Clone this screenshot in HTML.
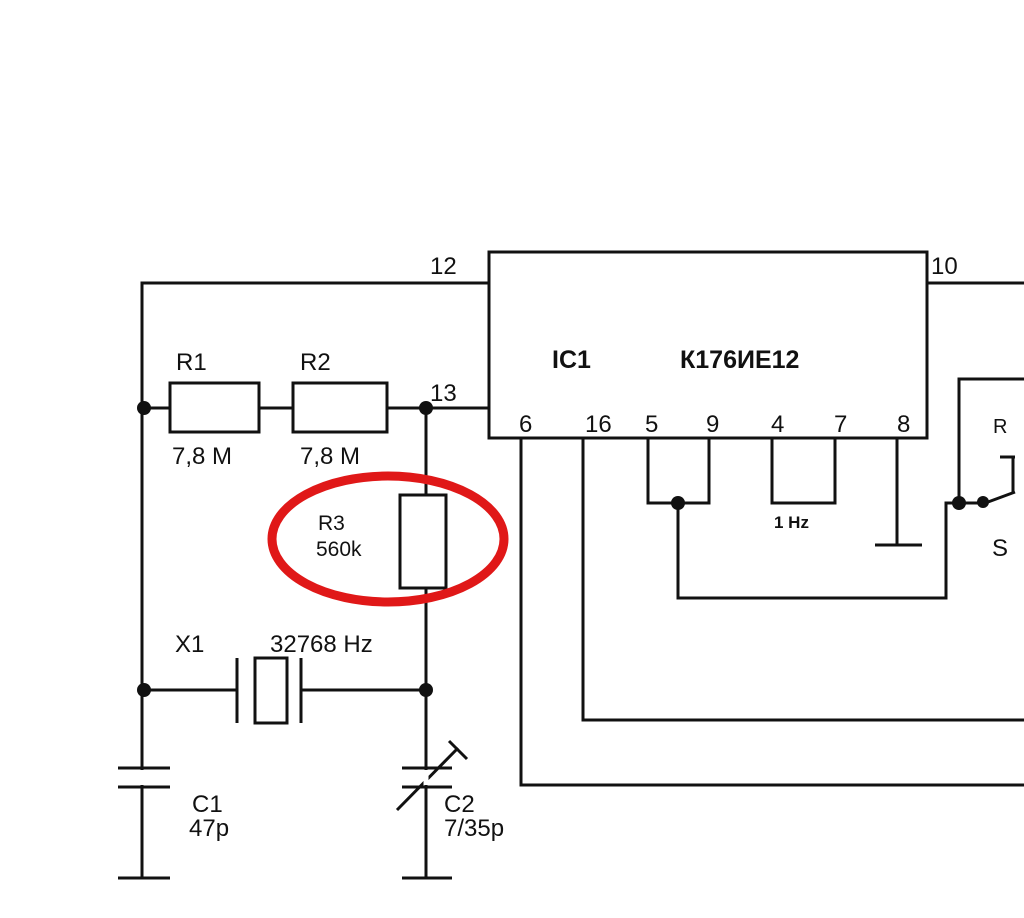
<!DOCTYPE html>
<html><head><meta charset="utf-8"><style>
html,body{margin:0;padding:0;background:#fff;}
svg{display:block}
text{font-family:"Liberation Sans",sans-serif;fill:#111;}
</style></head><body>
<svg width="1024" height="918" viewBox="0 0 1024 918" xmlns="http://www.w3.org/2000/svg">
<g stroke="#111" stroke-width="3" fill="none">
<!-- IC box -->
<rect x="489" y="252" width="438" height="186"/>
<!-- top wire pin 12 -->
<polyline points="489,283 142,283 142,878"/>
<line x1="927" y1="283" x2="1024" y2="283"/>
<!-- R1 R2 line -->
<line x1="142" y1="408" x2="170" y2="408"/>
<rect x="170" y="383" width="89" height="49"/>
<line x1="259" y1="408" x2="293" y2="408"/>
<rect x="293" y="383" width="94" height="49"/>
<line x1="387" y1="408" x2="489" y2="408"/>
<!-- right vertical -->
<line x1="426" y1="408" x2="426" y2="495"/>
<rect x="400" y="495" width="46" height="93"/>
<line x1="426" y1="588" x2="426" y2="878"/>
<!-- crystal -->
<line x1="142" y1="690" x2="237" y2="690"/>
<line x1="237" y1="658" x2="237" y2="723"/>
<rect x="255" y="658" width="32" height="65"/>
<line x1="301" y1="658" x2="301" y2="723"/>
<line x1="301" y1="690" x2="426" y2="690"/>
<!-- C1 -->
<line x1="118" y1="768" x2="170" y2="768"/>
<line x1="118" y1="787" x2="170" y2="787"/>
<line x1="118" y1="878" x2="170" y2="878"/>
<!-- C2 -->
<line x1="402" y1="768" x2="452" y2="768"/>
<line x1="402" y1="787" x2="452" y2="787"/>
<line x1="402" y1="878" x2="452" y2="878"/>
<line x1="397" y1="810" x2="458" y2="748"/>
<line x1="449" y1="741" x2="467" y2="759"/>
<!-- white gap between cap plates on verticals -->
</g>
<g stroke="#fff" stroke-width="5">
<line x1="142" y1="770" x2="142" y2="785"/>
<line x1="426" y1="770" x2="426" y2="785"/>
</g>
<g stroke="#111" stroke-width="3" fill="none">
<!-- bottom pins -->
<polyline points="521,438 521,785 1024,785"/>
<polyline points="583,438 583,720 1024,720"/>
<polyline points="648,438 648,503 709,503 709,438"/>
<polyline points="678,503 678,598 946,598 946,503 983,503"/>
<polyline points="772,438 772,503 835,503 835,438"/>
<line x1="897" y1="438" x2="897" y2="545"/>
<line x1="875" y1="545" x2="922" y2="545"/>
<polyline points="959,503 959,379 1024,379"/>
<line x1="988" y1="502" x2="1015" y2="492"/>
<line x1="1013" y1="457" x2="1013" y2="492"/>
<line x1="1000" y1="457" x2="1015" y2="457"/>
</g>
<g fill="#111">
<circle cx="144" cy="408" r="7"/>
<circle cx="426" cy="408" r="7"/>
<circle cx="144" cy="690" r="7"/>
<circle cx="426" cy="690" r="7"/>
<circle cx="678" cy="503" r="7"/>
<circle cx="959" cy="503" r="7"/>
<circle cx="983" cy="502" r="6"/>
</g>
<ellipse cx="388" cy="539" rx="116" ry="63" fill="none" stroke="#e01818" stroke-width="9"/>
<g font-size="24">
<text x="430" y="274">12</text>
<text x="931" y="274">10</text>
<text x="430" y="401">13</text>
<text x="176" y="370">R1</text>
<text x="300" y="370">R2</text>
<text x="172" y="464">7,8 M</text>
<text x="300" y="464">7,8 M</text>
<text x="318" y="530" font-size="21">R3</text>
<text x="316" y="556" font-size="21">560k</text>
<text x="175" y="652">X1</text>
<text x="270" y="652">32768 Hz</text>
<text x="192" y="812">C1</text>
<text x="189" y="836">47p</text>
<text x="444" y="812">C2</text>
<text x="444" y="836">7/35p</text>
<text x="552" y="368" font-weight="bold" font-size="25">IC1</text>
<text x="680" y="368" font-weight="bold" font-size="25">К176ИЕ12</text>
<text x="519" y="432">6</text>
<text x="585" y="432">16</text>
<text x="645" y="432">5</text>
<text x="706" y="432">9</text>
<text x="771" y="432">4</text>
<text x="834" y="432">7</text>
<text x="897" y="432">8</text>
<text x="774" y="528" font-size="17" font-weight="bold">1 Hz</text>
<text x="993" y="433" font-size="20">R</text>
<text x="992" y="556">S</text>
</g>
</svg>
</body></html>
